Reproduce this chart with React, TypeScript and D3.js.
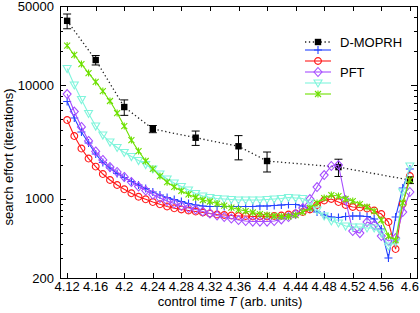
import React, { useRef, useEffect } from 'react';
import * as d3 from 'd3';

// control times of the PFT runs
const times = [
  4.12, 4.13, 4.14, 4.15, 4.16, 4.17, 4.18, 4.19, 4.2, 4.21,
  4.22, 4.23, 4.24, 4.25, 4.26, 4.27, 4.28, 4.29, 4.3, 4.31,
  4.32, 4.33, 4.34, 4.35, 4.36, 4.37, 4.38, 4.39, 4.4, 4.41,
  4.42, 4.43, 4.44, 4.45, 4.46, 4.47, 4.48, 4.49, 4.5, 4.51,
  4.52, 4.53, 4.54, 4.55, 4.56, 4.57, 4.58, 4.59, 4.6,
];

const pftBlue = [
  7190, 5145, 3870, 3100, 2480, 2085, 1865, 1668, 1538, 1418,
  1321, 1230, 1146, 1078, 1025, 984, 945, 907, 880, 862,
  854, 854, 854, 854, 854, 854, 854, 862, 862, 871,
  880, 889, 889, 862, 811, 763, 718, 690, 683, 697,
  704, 704, 697, 662, 541, 300, 690, 1243, 1830,
];
const pftRed = [
  4940, 3570, 2770, 2260, 1920, 1650, 1462, 1321, 1210, 1116,
  1041, 988, 935, 893, 854, 823, 803, 787, 771, 756,
  741, 726, 718, 711, 704, 704, 697, 697, 697, 704,
  711, 726, 741, 763, 803, 880, 964, 994, 935, 880,
  845, 836, 820, 787, 733, 623, 360, 898, 1585,
];
const pftPurple = [
  8375, 5870, 4290, 3230, 2610, 2195, 1900, 1720, 1555, 1403,
  1281, 1181, 1089, 1014, 954, 907, 862, 828, 803, 771,
  741, 711, 690, 669, 649, 636, 629, 629, 629, 636,
  656, 690, 733, 828, 994, 1268, 1618, 1943, 1982, 974,
  519, 498, 623, 586, 469, 424, 450, 763, 1146,
];
const pftCyan = [
  14050, 10060, 7490, 5640, 4370, 3640, 3160, 2830, 2555, 2355,
  2170, 2000, 1830, 1650, 1490, 1375, 1280, 1193, 1110, 1056,
  1025, 1004, 994, 984, 974, 974, 974, 974, 984, 994,
  1004, 1025, 1014, 1004, 917, 795, 704, 636, 611, 574,
  563, 563, 552, 552, 498, 383, 415, 1146, 1943,
];
const pftGreen = [
  22400, 18500, 15400, 12800, 10700, 8900, 7270, 5690, 4370, 3290,
  2630, 2150, 1830, 1585, 1400, 1270, 1170, 1090, 1025, 974,
  945, 907, 871, 836, 803, 779, 756, 733, 718, 704,
  697, 697, 718, 763, 828, 917, 1014, 1078, 1056, 994,
  954, 898, 845, 779, 649, 469, 432, 917, 1462,
];

// D-MOPRH with error bars
const mopTimes = [4.12, 4.16, 4.2, 4.24, 4.3, 4.36, 4.4, 4.5, 4.6];
const mopValues = [37000, 16700, 6430, 4120, 3450, 2900, 2150, 1900, 1460];
const mopErrors = [5500, 1600, 1000, 300, 500, 700, 430, 330, 100];

const xTicks = [4.12, 4.16, 4.2, 4.24, 4.28, 4.32, 4.36, 4.4, 4.44, 4.48, 4.52, 4.56, 4.6];
const yMajor = [200, 1000, 10000, 50000];
const yMinor = [300, 400, 500, 600, 700, 800, 900, 2000, 3000, 4000, 5000, 6000, 7000, 8000, 9000, 20000, 30000, 40000];

const markers = {
  plus: 'M-4,0H4M0,-4V4',
  circle: 'M3.4,0A3.4,3.4 0 1,1 -3.4,0A3.4,3.4 0 1,1 3.4,0Z',
  diamond: 'M0,-4.5L4,0L0,4.5L-4,0Z',
  triangle: 'M-4,-3L4,-3L0,4Z',
  cross: 'M-3,-3L3,3M-3,3L3,-3M0,-3.5V3.5',
};

const series = [
  { values: pftBlue, color: '#2442ff', marker: markers.plus },
  { values: pftRed, color: '#ff1a1a', marker: markers.circle },
  { values: pftPurple, color: '#a64dff', marker: markers.diamond },
  { values: pftCyan, color: '#80f5dc', marker: markers.triangle },
  { values: pftGreen, color: '#6ee000', marker: markers.cross },
];

const App = () => {
  const svgRef = useRef(null);
  const width = 420;
  const height = 313;
  const margin = { top: 6, right: 3, bottom: 35, left: 60 };

  useEffect(() => {
    document.body.style.margin = '0';
    const svg = d3.select(svgRef.current);
    svg.selectAll('*').remove();

    const x = d3.scaleLinear().domain([4.11, 4.61]).range([margin.left, width - margin.right]);
    const y = d3.scaleLog().domain([200, 50000]).range([height - margin.bottom, margin.top]);
    const x0 = margin.left, x1 = width - margin.right;
    const y0 = height - margin.bottom, y1 = margin.top;
    const font = 'Liberation Sans, Arial, sans-serif';

    // frame
    svg.append('rect')
      .attr('x', x0 + 0.5).attr('y', y1 + 0.5)
      .attr('width', x1 - x0).attr('height', y0 - y1)
      .attr('fill', 'none').attr('stroke', '#000').attr('stroke-width', 1);

    // x ticks (bottom and mirrored top)
    xTicks.forEach(t => {
      const px = Math.round(x(t)) + 0.5;
      svg.append('line').attr('x1', px).attr('x2', px).attr('y1', y0).attr('y2', y0 - 5).attr('stroke', '#000');
      svg.append('line').attr('x1', px).attr('x2', px).attr('y1', y1).attr('y2', y1 + 5).attr('stroke', '#000');
      svg.append('text')
        .attr('x', x(t)).attr('y', y0 + 13)
        .attr('text-anchor', 'middle')
        .attr('font-family', font).attr('font-size', 13)
        .text(String(t));
    });

    // y ticks
    const yTick = (v, len) => {
      const py = Math.round(y(v)) + 0.5;
      svg.append('line').attr('x1', x0).attr('x2', x0 + len).attr('y1', py).attr('y2', py).attr('stroke', '#000');
      svg.append('line').attr('x1', x1).attr('x2', x1 - len).attr('y1', py).attr('y2', py).attr('stroke', '#000');
    };
    yMinor.forEach(v => yTick(v, 3));
    yMajor.forEach(v => {
      yTick(v, 6);
      svg.append('text')
        .attr('x', x0 - 6).attr('y', y(v) + 4.5)
        .attr('text-anchor', 'end')
        .attr('font-family', font).attr('font-size', 13)
        .text(String(v));
    });

    // axis titles
    const xt = svg.append('text')
      .attr('x', 230).attr('y', 306)
      .attr('text-anchor', 'middle')
      .attr('font-family', font).attr('font-size', 13);
    xt.append('tspan').text('control time ');
    xt.append('tspan').attr('font-style', 'italic').text('T');
    xt.append('tspan').text(' (arb. units)');

    svg.append('text')
      .attr('transform', 'translate(13,157) rotate(-90)')
      .attr('text-anchor', 'middle')
      .attr('font-family', font).attr('font-size', 13)
      .text('search effort (iterations)');

    // D-MOPRH
    const mopLine = d3.line().x((d, i) => x(mopTimes[i])).y(d => y(d));
    svg.append('path')
      .attr('d', mopLine(mopValues))
      .attr('fill', 'none').attr('stroke', '#222')
      .attr('stroke-width', 1.3).attr('stroke-dasharray', '1.3,2.6');

    mopValues.forEach((v, i) => {
      const px = x(mopTimes[i]);
      const hi = y(v + mopErrors[i]);
      const lo = y(v - mopErrors[i]);
      const g = svg.append('g').attr('stroke', '#000').attr('stroke-width', 1);
      g.append('line').attr('x1', px).attr('x2', px).attr('y1', hi).attr('y2', lo);
      g.append('line').attr('x1', px - 4).attr('x2', px + 4).attr('y1', hi).attr('y2', hi);
      g.append('line').attr('x1', px - 4).attr('x2', px + 4).attr('y1', lo).attr('y2', lo);
      svg.append('rect')
        .attr('x', px - 3.2).attr('y', y(v) - 3.2)
        .attr('width', 6.4).attr('height', 6.4)
        .attr('fill', '#000');
    });

    // PFT series
    const line = d3.line().x((d, i) => x(times[i])).y(d => y(d));
    series.forEach(s => {
      const g = svg.append('g');
      g.append('path')
        .attr('d', line(s.values))
        .attr('fill', 'none').attr('stroke', s.color).attr('stroke-width', 1.1);
      g.selectAll('path.marker')
        .data(s.values)
        .join('path')
        .attr('class', 'marker')
        .attr('transform', (d, i) => `translate(${x(times[i])},${y(d)})`)
        .attr('d', s.marker)
        .attr('fill', 'none').attr('stroke', s.color).attr('stroke-width', 1.1);
    });

    // legend
    const lx0 = 305, lx1 = 331, lmid = 318;
    svg.append('line')
      .attr('x1', lx0).attr('x2', lx1).attr('y1', 42).attr('y2', 42)
      .attr('stroke', '#222').attr('stroke-width', 1.3).attr('stroke-dasharray', '1.3,2.6');
    svg.append('rect').attr('x', lmid - 3.2).attr('y', 42 - 3.2).attr('width', 6.4).attr('height', 6.4).attr('fill', '#000');
    svg.append('text')
      .attr('x', 340).attr('y', 46.5)
      .attr('font-family', font).attr('font-size', 13)
      .text('D-MOPRH');

    const legendY = [50, 61, 72, 83, 94];
    series.forEach((s, i) => {
      svg.append('line')
        .attr('x1', lx0).attr('x2', lx1).attr('y1', legendY[i]).attr('y2', legendY[i])
        .attr('stroke', s.color).attr('stroke-width', 1.1);
      svg.append('path')
        .attr('transform', `translate(${lmid},${legendY[i]})`)
        .attr('d', s.marker)
        .attr('fill', 'none').attr('stroke', s.color).attr('stroke-width', 1.1);
    });
    svg.append('text')
      .attr('x', 340).attr('y', 77)
      .attr('font-family', font).attr('font-size', 13)
      .text('PFT');
  }, []);

  return (
    <div>
      <svg ref={svgRef} width={width} height={height} style={{ display: 'block', background: '#fff' }} />
    </div>
  );
};

export default App;
